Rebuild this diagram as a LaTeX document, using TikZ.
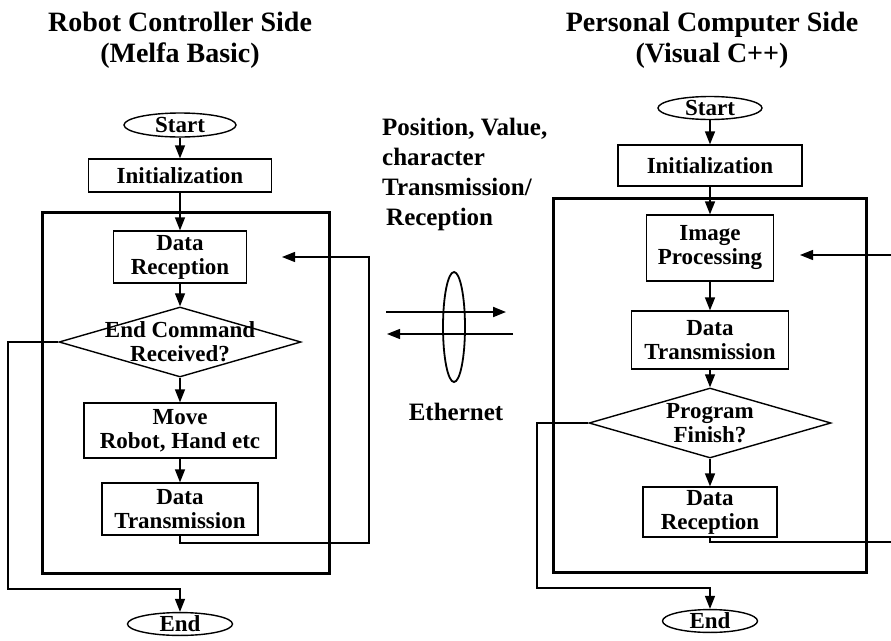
\documentclass[tikz,border=0pt]{standalone}
\usepackage{fontspec}
\setmainfont{Liberation Serif}
\usetikzlibrary{shapes.geometric,arrows.meta,positioning}

\begin{document}
\begin{tikzpicture}[x=1pt, y=-1pt,
		every node/.style={font=\bfseries\fontsize{23}{24}\selectfont, align=center, inner sep=0pt},
		title/.style={font=\bfseries\fontsize{28}{31}\selectfont},
		note/.style={font=\bfseries\fontsize{25}{30}\selectfont},
		box/.style={draw, line width=1.2pt},
		term/.style={draw, ellipse, line width=1.4pt, minimum height=24pt},
		decide/.style={draw, diamond, line width=1.4pt, minimum width=242pt, minimum height=70pt},
		frame/.style={line width=3pt},
		flow/.style={line width=1.3pt, -{Triangle[length=13pt,width=10pt]}}]
		\path[use as bounding box, clip] (0,0) rectangle (891,640);

		% robot controller side
		\node[title] (lt) at (180,40) {Robot Controller Side\\(Melfa Basic)};
		\node[term, minimum width=112pt] (l1) at (180,125) {Start};
		\node[box, minimum width=183pt, minimum height=33pt] (l2) at (180,175.5) {Initialization};
		\draw[frame] (42,212) rectangle (329,573);
		\node[box, minimum width=133pt, minimum height=52pt] (l3) at (180,257) {Data\\Reception};
		\node[decide] (l4) at (180,342) {};
		\node (l4t) at (l4) {End Command\\Received?};
		\node[box, minimum width=192pt, minimum height=55pt] (l5) at (180,430.5) {Move\\Robot, Hand etc};
		\node[box, minimum width=156pt, minimum height=52pt] (l6) at (180,509) {Data\\Transmission};
		\node[term, minimum width=105pt, minimum height=22pt] (l7) at (180,624) {End};

		\draw[flow] (l1) -- (l2);
		\draw[flow] (l2) -- (l3);
		\draw[flow] (l3) -- (l4);
		\draw[flow] (l4) -- (l5);
		\draw[flow] (l5) -- (l6);
		% loop back and exit
		\coordinate (lret) at (369,543);
		\coordinate (ltip) at (282,257);
		\draw[flow] (l6.south) |- (lret) |- (ltip);
		\coordinate (lout) at (8,589);
		\draw[flow] (l4.west) -| (lout) -| (l7.north);

		% ethernet link
		\node[note, anchor=north west, align=left] (msg) at (382,118) {Position, Value,\\character\\Transmission/\\\hspace{4pt}Reception};
		\node[draw, ellipse, line width=1.8pt, minimum width=22pt, minimum height=110pt] (eth) at (454,327) {};
		\coordinate (tx1) at (386,312);
		\coordinate (tx2) at (506,312);
		\coordinate (rx1) at (513,334);
		\coordinate (rx2) at (387,334);
		\draw[flow, line width=2pt] (tx1) -- (tx2);
		\draw[flow] (rx1) -- (rx2);
		\node[note] (ethl) at (456,412) {Ethernet};

		% personal computer side
		\node[title] (rt) at (712,40) {Personal Computer Side\\(Visual C++)};
		\node[term, minimum width=104pt, minimum height=23pt] (r1) at (710,108) {Start};
		\node[box, minimum width=184pt, minimum height=41pt] (r2) at (710,165.5) {Initialization};
		\draw[frame] (553,198) rectangle (866,572);
		\node[box, minimum width=127pt, minimum height=66pt] (r3) at (710,248) {Image\\Processing};
		\node[box, minimum width=157pt, minimum height=58pt] (r4) at (710,340) {Data\\Transmission};
		\node[decide] (r5) at (710,423) {};
		\node (r5t) at (r5) {Program\\Finish?};
		\node[box, minimum width=134pt, minimum height=50pt] (r6) at (710,512) {Data\\Reception};
		\node[term, minimum width=95pt, minimum height=22pt] (r7) at (710,621) {End};

		\draw[flow] (r1) -- (r2);
		\draw[flow] (r2) -- (r3);
		\draw[flow] (r3) -- (r4);
		\draw[flow] (r4) -- (r5);
		\draw[flow] (r5) -- (r6);
		% loop back and exit
		\coordinate (rret) at (895,542);
		\coordinate (rtip) at (800,255);
		\draw[flow] (r6.south) |- (rret) |- (rtip);
		\coordinate (rout) at (537,423);
		\coordinate (rbot) at (537,588);
		\draw[flow] (r5.west) -- (rout) -- (rbot) -| (r7.north);
	\end{tikzpicture}
\end{document}
